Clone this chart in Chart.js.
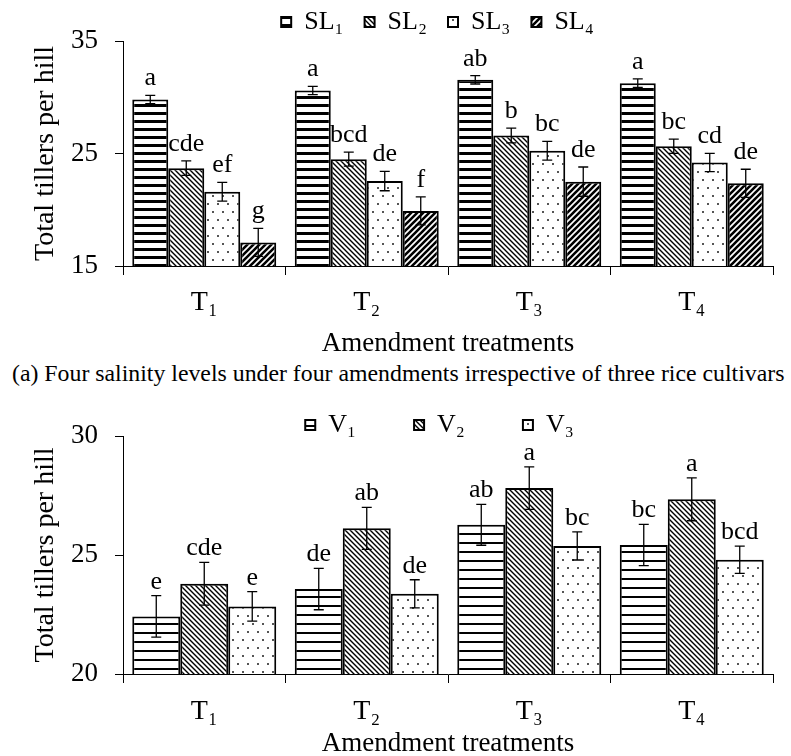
<!DOCTYPE html>
<html>
<head>
<meta charset="utf-8">
<script src="https://cdn.jsdelivr.net/npm/chart.js@4.4.0/dist/chart.umd.min.js"></script>
<style>
  html, body { margin: 0; padding: 0; background: #fff; overflow: hidden; }
  body { width: 791px; height: 756px; position: relative; }
  canvas { position: absolute; left: 0; }
  #caption {
    position: absolute; left: 12px; top: 360px; white-space: nowrap;
    font-family: "Liberation Serif", "Times New Roman", serif; font-size: 23.8px; line-height: 26px; color: #000;
  }
</style>
</head>
<body>
<canvas id="chartA" width="791" height="360" style="top:0"></canvas>
<div id="caption">(a) Four salinity levels under four amendments irrespective of three rice cultivars</div>
<canvas id="chartB" width="791" height="380" style="top:380px"></canvas>
<script>
// categories
var treatments = ['T₁', 'T₂', 'T₃', 'T₄'];

// (a) salinity levels
var salinityNames = ['SL₁', 'SL₂', 'SL₃', 'SL₄'];
var sl1 = [29.8, 30.6, 31.55, 31.25];
var sl2 = [23.7, 24.5, 26.6, 25.65];
var sl3 = [21.6, 22.55, 25.25, 24.2];
var sl4 = [17.1, 19.9, 22.5, 22.35];
var sl1Err = [0.37, 0.37, 0.37, 0.38];
var sl2Err = [0.65, 0.63, 0.66, 0.63];
var sl3Err = [0.84, 0.86, 0.83, 0.81];
var sl4Err = [1.24, 1.24, 1.3, 1.25];
var sl1Letters = ['a', 'a', 'ab', 'a'];
var sl2Letters = ['cde', 'bcd', 'b', 'bc'];
var sl3Letters = ['ef', 'de', 'bc', 'cd'];
var sl4Letters = ['g', 'f', 'de', 'de'];
var ticksA = [15, 25, 35];

// (b) cultivars
var cultivarNames = ['V₁', 'V₂', 'V₃'];
var v1 = [22.42, 23.57, 26.27, 25.42];
var v2 = [23.79, 26.12, 27.81, 27.34];
var v3 = [22.84, 23.37, 25.38, 24.8];
var v1Err = [0.87, 0.87, 0.86, 0.87];
var v2Err = [0.9, 0.88, 0.89, 0.9];
var v3Err = [0.62, 0.59, 0.59, 0.57];
var v1Letters = ['e', 'de', 'ab', 'bc'];
var v2Letters = ['cde', 'ab', 'a', 'a'];
var v3Letters = ['e', 'de', 'bc', 'bcd'];
var ticksB = [20, 25, 30];

var serif = '"Liberation Serif", "DejaVu Serif", serif';
Chart.defaults.font.family = serif;
Chart.defaults.color = '#000';

// hatch fills
function makePattern(kind, lw, period) {
    var c = document.createElement('canvas');
    var x = c.getContext('2d');
    var s;
    if (kind === 'horiz') {
        c.width = 8; c.height = period;
        x.fillStyle = '#fff'; x.fillRect(0, 0, 8, period);
        x.fillStyle = '#000'; x.fillRect(0, 0, 8, lw);
    } else if (kind === 'back' || kind === 'fwd') {
        s = kind === 'back' ? 5 : 6;
        c.width = s; c.height = s;
        x.fillStyle = '#fff'; x.fillRect(0, 0, s, s);
        x.strokeStyle = '#000'; x.lineWidth = lw;
        x.beginPath();
        if (kind === 'back') {
            x.moveTo(-1, -1); x.lineTo(s + 1, s + 1);
            x.moveTo(-1, s - 1); x.lineTo(1, s + 1);
            x.moveTo(s - 1, -1); x.lineTo(s + 1, 1);
        } else {
            x.moveTo(-1, s + 1); x.lineTo(s + 1, -1);
            x.moveTo(-1, 1); x.lineTo(1, -1);
            x.moveTo(s - 1, s + 1); x.lineTo(s + 1, s - 1);
        }
        x.stroke();
    } else {
        c.width = 10; c.height = 16;
        x.fillStyle = '#fff'; x.fillRect(0, 0, 10, 16);
        x.fillStyle = '#555';
        x.fillRect(2, 3, 2, 2);
        x.fillRect(7, 11, 2, 2);
    }
    return x.createPattern(c, 'repeat');
}

// error bars and letters above bars
var errLetters = {
    id: 'errLetters',
    afterDatasetsDraw: function(chart, args, opts) {
        var ctx = chart.ctx;
        var yScale = chart.scales.y;
        ctx.save();
        ctx.strokeStyle = '#000';
        ctx.lineWidth = 1.3;
        ctx.fillStyle = '#000';
        ctx.font = opts.fontSize + 'px ' + serif;
        ctx.textAlign = 'center';
        ctx.textBaseline = 'alphabetic';
        chart.data.datasets.forEach(function(ds, i) {
            var meta = chart.getDatasetMeta(i);
            meta.data.forEach(function(bar, j) {
                var v = ds.data[j];
                var e = opts.errors[i][j];
                var yTop = yScale.getPixelForValue(v + e);
                var yBot = yScale.getPixelForValue(v - e);
                ctx.beginPath();
                ctx.moveTo(bar.x, yTop); ctx.lineTo(bar.x, yBot);
                ctx.moveTo(bar.x - 5, yTop); ctx.lineTo(bar.x + 5, yTop);
                ctx.moveTo(bar.x - 5, yBot); ctx.lineTo(bar.x + 5, yBot);
                ctx.stroke();
                ctx.fillText(opts.letters[i][j], bar.x, yTop - opts.gap);
            });
        });
        ctx.restore();
    }
};

// move the legend row to where the figure has it; the legend clips to its box,
// so the bottom edge is only pushed down a little to keep subscripts visible
var legendShift = {
    id: 'legendShift',
    afterLayout: function(chart, args, opts) {
        var lg = chart.legend;
        lg.left += opts.dx; lg.right += opts.dx;
        lg.top += opts.dy;
        lg.bottom += 12;
    }
};

function barSet(label, data, fill) {
    return {
        label: label,
        data: data,
        backgroundColor: fill,
        borderColor: '#000',
        borderWidth: 2,
        borderSkipped: false,
        categoryPercentage: 0.886,
        barPercentage: 1
    };
}

function buildOptions(cfg) {
    return {
        responsive: false,
        animation: false,
        layout: { padding: { left: 0, right: 18, top: 0, bottom: 0 } },
        plugins: {
            legend: {
                position: 'top',
                maxHeight: cfg.legendHeight,
                labels: {
                    boxWidth: 10, boxHeight: 10,
                    padding: cfg.legendPad,
                    font: { size: 26, family: serif },
                    color: '#000'
                }
            },
            tooltip: { enabled: false },
            errLetters: { errors: cfg.errors, letters: cfg.letters, gap: cfg.gap, fontSize: 26 },
            legendShift: { dx: cfg.dx, dy: cfg.dy }
        },
        scales: {
            x: {
                afterFit: function(s) { s.height = cfg.xHeight; },
                grid: { offset: true, drawOnChartArea: false, tickLength: 9, color: '#000', lineWidth: 1 },
                border: { color: '#000', width: 1 },
                ticks: { font: { size: 28, family: serif }, padding: cfg.xTickPad, color: '#000' },
                title: { display: true, text: 'Amendment treatments', font: { size: 27, family: serif }, padding: 0, color: '#000' }
            },
            y: {
                min: cfg.ticks[0],
                max: cfg.ticks[cfg.ticks.length - 1],
                afterFit: function(s) { s.width = 123; },
                afterBuildTicks: function(s) { s.ticks = cfg.ticks.map(function(v) { return { value: v }; }); },
                grid: { drawOnChartArea: false, tickLength: 8, color: '#000', lineWidth: 1 },
                border: { color: '#000', width: 1 },
                ticks: { font: { size: 27, family: serif }, padding: 17, color: '#000' },
                title: { display: true, text: 'Total tillers per hill', font: { size: 28, family: serif }, padding: { top: 29, bottom: 0 }, color: '#000' }
            }
        }
    };
}

new Chart(document.getElementById('chartA'), {
    type: 'bar',
    data: {
        labels: treatments,
        datasets: [
            barSet(salinityNames[0], sl1, makePattern('horiz', 3, 8)),
            barSet(salinityNames[1], sl2, makePattern('back', 1.4)),
            barSet(salinityNames[2], sl3, makePattern('dots')),
            barSet(salinityNames[3], sl4, makePattern('fwd', 2.6))
        ]
    },
    options: buildOptions({
        legendHeight: 41, legendPad: 21, dx: 51, dy: -12,
        errors: [sl1Err, sl2Err, sl3Err, sl4Err],
        letters: [sl1Letters, sl2Letters, sl3Letters, sl4Letters],
        gap: 10, xHeight: 94, xTickPad: 11, ticks: ticksA
    }),
    plugins: [errLetters, legendShift]
});

new Chart(document.getElementById('chartB'), {
    type: 'bar',
    data: {
        labels: treatments,
        datasets: [
            barSet(cultivarNames[0], v1, makePattern('horiz', 2, 9)),
            barSet(cultivarNames[1], v2, makePattern('back', 1.4)),
            barSet(cultivarNames[2], v3, makePattern('dots'))
        ]
    },
    options: buildOptions({
        legendHeight: 56, legendPad: 58, dx: 53, dy: -26,
        errors: [v1Err, v2Err, v3Err],
        letters: [v1Letters, v2Letters, v3Letters],
        gap: 7, xHeight: 86, xTickPad: 12, ticks: ticksB
    }),
    plugins: [errLetters, legendShift]
});
</script>
</body>
</html>
